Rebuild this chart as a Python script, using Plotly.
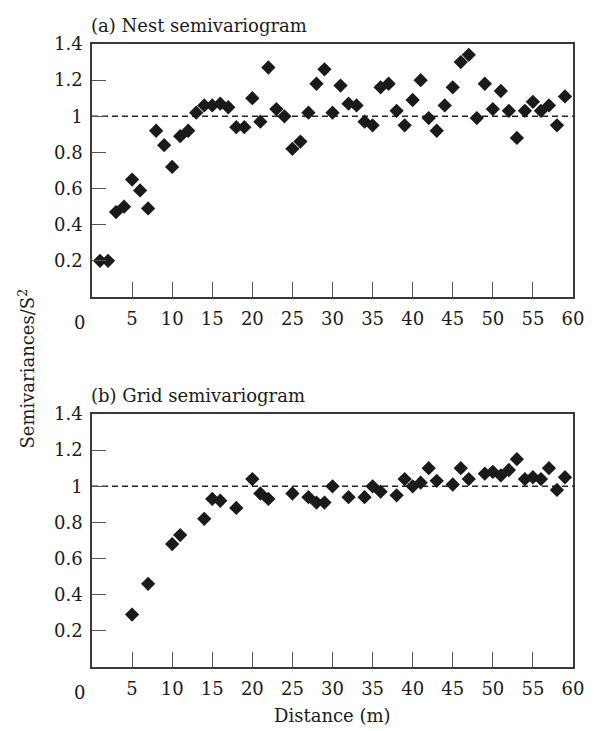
import plotly.graph_objects as go
from plotly.subplots import make_subplots

nest_x = list(range(1, 60))
nest_y = [0.20, 0.20, 0.47, 0.50, 0.65, 0.59, 0.49, 0.92, 0.84, 0.72,
          0.89, 0.92, 1.02, 1.06, 1.06, 1.07, 1.05, 0.94, 0.94, 1.10,
          0.97, 1.27, 1.04, 1.00, 0.82, 0.86, 1.02, 1.18, 1.26, 1.02,
          1.17, 1.07, 1.06, 0.97, 0.95, 1.16, 1.18, 1.03, 0.95, 1.09,
          1.20, 0.99, 0.92, 1.06, 1.16, 1.30, 1.34, 0.99, 1.18, 1.04,
          1.14, 1.03, 0.88, 1.03, 1.08, 1.03, 1.06, 0.95, 1.11]

grid_x = [5, 7, 10, 11, 14, 15, 16, 18, 20, 21, 22, 25, 27, 28, 29, 30,
          32, 34, 35, 36, 38, 39, 40, 41, 42, 43, 45, 46, 47, 49, 50, 51,
          52, 53, 54, 55, 56, 57, 58, 59]
grid_y = [0.29, 0.46, 0.68, 0.73, 0.82, 0.93, 0.92, 0.88, 1.04, 0.96, 0.93,
          0.96, 0.94, 0.91, 0.91, 1.00, 0.94, 0.94, 1.00, 0.97, 0.95, 1.04,
          1.00, 1.02, 1.10, 1.03, 1.01, 1.10, 1.04, 1.07, 1.08, 1.06, 1.09,
          1.15, 1.04, 1.05, 1.04, 1.10, 0.98, 1.05]

x_ticks = [0, 5, 10, 15, 20, 25, 30, 35, 40, 45, 50, 55, 60]
x_ticktext = [""] + [str(v) for v in x_ticks[1:]]
y_ticks = [0, 0.2, 0.4, 0.6, 0.8, 1.0, 1.2, 1.4]
y_ticktext = ["", "0.2", "0.4", "0.6", "0.8", "1", "1.2", "1.4"]
sill = [1.0, 1.0]
sill_x = [0, 60]

titles = ["(a) Nest semivariogram", "(b) Grid semivariogram"]

FONT = "DejaVu Serif"
FS = 18
# page body has an 8px margin, so the figure is 8px smaller each way
W, H = 588, 723
mt, mb = 36, 64
ph = H - mt - mb

fig = make_subplots(rows=2, cols=1)

series = [(nest_x, nest_y), (grid_x, grid_y)]
for i, (xs, ys) in enumerate(series, start=1):
    fig.add_trace(go.Scatter(x=sill_x, y=sill, mode="lines",
                             line=dict(color="#222", width=1.4, dash="6px,4px"),
                             hoverinfo="skip", showlegend=False), row=i, col=1)
    fig.add_trace(go.Scatter(x=xs, y=ys, mode="markers",
                             marker=dict(symbol="diamond", size=11, color="#1a1a1a"),
                             showlegend=False), row=i, col=1)

dom_a = [(ph - (297 - 44)) / ph, 1.0]
dom_b = [0.0, (667 - 414) / ph]

axis_common = dict(showgrid=False, zeroline=False, showline=True, mirror=True,
                   linecolor="#3a3a3a", linewidth=1.5, ticks="inside",
                   tickcolor="#555", tickwidth=1.3,
                   tickfont=dict(family=FONT, size=FS, color="#1a1a1a"))

for i, dom in [(1, dom_a), (2, dom_b)]:
    fig.update_xaxes(range=[0, 60], tickvals=x_ticks, ticktext=x_ticktext,
                     ticklen=15, ticklabelstandoff=5, row=i, col=1, **axis_common)
    fig.update_yaxes(range=[0, 1.4], tickvals=y_ticks, ticktext=y_ticktext,
                     ticklen=14, ticklabelstandoff=4, domain=dom, row=i, col=1,
                     **axis_common)

annotations = []
for i, t in enumerate(titles):
    yref = "y domain" if i == 0 else "y2 domain"
    annotations.append(dict(text=t, xref="paper", yref=yref, x=0, y=1,
                            xanchor="left", yanchor="bottom", yshift=6,
                            xshift=-3, showarrow=False,
                            font=dict(family=FONT, size=FS, color="#1a1a1a")))
    annotations.append(dict(text="0", xref="x" if i == 0 else "x2", yref=yref,
                            x=0, y=0, xanchor="center", yanchor="top",
                            xshift=-13, yshift=-13, showarrow=False,
                            font=dict(family=FONT, size=FS, color="#1a1a1a")))

annotations.append(dict(text="Semivariances/S<sup>2</sup>", xref="paper", yref="paper",
                        x=-0.137, y=0.5, xanchor="center", yanchor="middle",
                        yshift=-13, textangle=-90, showarrow=False,
                        font=dict(family=FONT, size=FS, color="#1a1a1a")))
annotations.append(dict(text="Distance (m)", xref="paper", yref="paper",
                        x=0.5, y=0, xanchor="center", yanchor="top", yshift=-36,
                        showarrow=False, font=dict(family=FONT, size=FS, color="#1a1a1a")))

fig.update_layout(width=W, height=H, margin=dict(l=84, r=16, t=mt, b=mb),
                  plot_bgcolor="white", paper_bgcolor="white",
                  annotations=annotations)

fig.write_html("out.html")
